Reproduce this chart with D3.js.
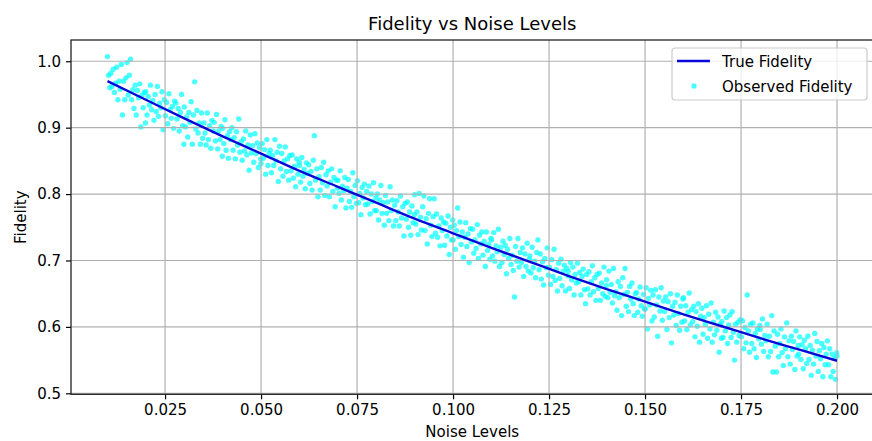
<!DOCTYPE html>
<html>
<head>
<meta charset="utf-8">
<script src="https://cdn.jsdelivr.net/npm/d3@7"></script>
<style>
  body { margin: 0; background: #fff; }
  svg { display: block; font-family: "DejaVu Sans", sans-serif; }
</style>
</head>
<body>
<script>
// noise level of each observed sample
var noiseLevels = [
  0.0100,0.0103,0.0106,0.0109,0.0112,0.0115,0.0118,0.0121,0.0124,0.0127,0.0130,0.0133,0.0136,0.0139,0.0142,0.0145,0.0148,0.0151,0.0154,0.0157,0.0160,0.0163,0.0166,0.0169,0.0172,0.0175,0.0178,0.0181,0.0184,0.0187,0.0190,0.0193,0.0196,0.0199,
  0.0200,0.0203,0.0206,0.0209,0.0212,0.0215,0.0218,0.0221,0.0224,0.0227,0.0230,0.0233,0.0236,0.0239,0.0242,0.0245,0.0248,0.0251,0.0254,0.0257,0.0260,0.0263,0.0266,0.0269,0.0272,0.0275,0.0278,0.0281,0.0284,0.0287,0.0290,0.0293,0.0296,0.0299,
  0.0300,0.0303,0.0306,0.0309,0.0312,0.0315,0.0318,0.0321,0.0324,0.0327,0.0330,0.0333,0.0336,0.0339,0.0342,0.0345,0.0348,0.0351,0.0354,0.0357,0.0360,0.0363,0.0366,0.0369,0.0372,0.0375,0.0378,0.0381,0.0384,0.0387,0.0390,0.0393,0.0396,0.0399,
  0.0400,0.0403,0.0406,0.0409,0.0412,0.0415,0.0418,0.0421,0.0424,0.0427,0.0430,0.0433,0.0436,0.0439,0.0442,0.0445,0.0448,0.0451,0.0454,0.0457,0.0460,0.0463,0.0466,0.0469,0.0472,0.0475,0.0478,0.0481,0.0484,0.0487,0.0490,0.0493,0.0496,0.0499,
  0.0500,0.0503,0.0506,0.0509,0.0512,0.0515,0.0518,0.0521,0.0524,0.0527,0.0530,0.0533,0.0536,0.0539,0.0542,0.0545,0.0548,0.0551,0.0554,0.0557,0.0560,0.0563,0.0566,0.0569,0.0572,0.0575,0.0578,0.0581,0.0584,0.0587,0.0590,0.0593,0.0596,0.0599,
  0.0600,0.0603,0.0606,0.0609,0.0612,0.0615,0.0618,0.0621,0.0624,0.0627,0.0630,0.0633,0.0636,0.0639,0.0642,0.0645,0.0648,0.0651,0.0654,0.0657,0.0660,0.0663,0.0666,0.0669,0.0672,0.0675,0.0678,0.0681,0.0684,0.0687,0.0690,0.0693,0.0696,0.0699,
  0.0700,0.0703,0.0706,0.0709,0.0712,0.0715,0.0718,0.0721,0.0724,0.0727,0.0730,0.0733,0.0736,0.0739,0.0742,0.0745,0.0748,0.0751,0.0754,0.0757,0.0760,0.0763,0.0766,0.0769,0.0772,0.0775,0.0778,0.0781,0.0784,0.0787,0.0790,0.0793,0.0796,0.0799,
  0.0800,0.0803,0.0806,0.0809,0.0812,0.0815,0.0818,0.0821,0.0824,0.0827,0.0830,0.0833,0.0836,0.0839,0.0842,0.0845,0.0848,0.0851,0.0854,0.0857,0.0860,0.0863,0.0866,0.0869,0.0872,0.0875,0.0878,0.0881,0.0884,0.0887,0.0890,0.0893,0.0896,0.0899,
  0.0900,0.0903,0.0906,0.0909,0.0912,0.0915,0.0918,0.0921,0.0924,0.0927,0.0930,0.0933,0.0936,0.0939,0.0942,0.0945,0.0948,0.0951,0.0954,0.0957,0.0960,0.0963,0.0966,0.0969,0.0972,0.0975,0.0978,0.0981,0.0984,0.0987,0.0990,0.0993,0.0996,0.0999,
  0.1000,0.1003,0.1006,0.1009,0.1012,0.1015,0.1018,0.1021,0.1024,0.1027,0.1030,0.1033,0.1036,0.1039,0.1042,0.1045,0.1048,0.1051,0.1054,0.1057,0.1060,0.1063,0.1066,0.1069,0.1072,0.1075,0.1078,0.1081,0.1084,0.1087,0.1090,0.1093,0.1096,0.1099,
  0.1100,0.1103,0.1106,0.1109,0.1112,0.1115,0.1118,0.1121,0.1124,0.1127,0.1130,0.1133,0.1136,0.1139,0.1142,0.1145,0.1148,0.1151,0.1154,0.1157,0.1160,0.1163,0.1166,0.1169,0.1172,0.1175,0.1178,0.1181,0.1184,0.1187,0.1190,0.1193,0.1196,0.1199,
  0.1200,0.1203,0.1206,0.1209,0.1212,0.1215,0.1218,0.1221,0.1224,0.1227,0.1230,0.1233,0.1236,0.1239,0.1242,0.1245,0.1248,0.1251,0.1254,0.1257,0.1260,0.1263,0.1266,0.1269,0.1272,0.1275,0.1278,0.1281,0.1284,0.1287,0.1290,0.1293,0.1296,0.1299,
  0.1300,0.1303,0.1306,0.1309,0.1312,0.1315,0.1318,0.1321,0.1324,0.1327,0.1330,0.1333,0.1336,0.1339,0.1342,0.1345,0.1348,0.1351,0.1354,0.1357,0.1360,0.1363,0.1366,0.1369,0.1372,0.1375,0.1378,0.1381,0.1384,0.1387,0.1390,0.1393,0.1396,0.1399,
  0.1400,0.1403,0.1406,0.1409,0.1412,0.1415,0.1418,0.1421,0.1424,0.1427,0.1430,0.1433,0.1436,0.1439,0.1442,0.1445,0.1448,0.1451,0.1454,0.1457,0.1460,0.1463,0.1466,0.1469,0.1472,0.1475,0.1478,0.1481,0.1484,0.1487,0.1490,0.1493,0.1496,0.1499,
  0.1500,0.1503,0.1506,0.1509,0.1512,0.1515,0.1518,0.1521,0.1524,0.1527,0.1530,0.1533,0.1536,0.1539,0.1542,0.1545,0.1548,0.1551,0.1554,0.1557,0.1560,0.1563,0.1566,0.1569,0.1572,0.1575,0.1578,0.1581,0.1584,0.1587,0.1590,0.1593,0.1596,0.1599,
  0.1600,0.1603,0.1606,0.1609,0.1612,0.1615,0.1618,0.1621,0.1624,0.1627,0.1630,0.1633,0.1636,0.1639,0.1642,0.1645,0.1648,0.1651,0.1654,0.1657,0.1660,0.1663,0.1666,0.1669,0.1672,0.1675,0.1678,0.1681,0.1684,0.1687,0.1690,0.1693,0.1696,0.1699,
  0.1700,0.1703,0.1706,0.1709,0.1712,0.1715,0.1718,0.1721,0.1724,0.1727,0.1730,0.1733,0.1736,0.1739,0.1742,0.1745,0.1748,0.1751,0.1754,0.1757,0.1760,0.1763,0.1766,0.1769,0.1772,0.1775,0.1778,0.1781,0.1784,0.1787,0.1790,0.1793,0.1796,0.1799,
  0.1800,0.1803,0.1806,0.1809,0.1812,0.1815,0.1818,0.1821,0.1824,0.1827,0.1830,0.1833,0.1836,0.1839,0.1842,0.1845,0.1848,0.1851,0.1854,0.1857,0.1860,0.1863,0.1866,0.1869,0.1872,0.1875,0.1878,0.1881,0.1884,0.1887,0.1890,0.1893,0.1896,0.1899,
  0.1900,0.1903,0.1906,0.1909,0.1912,0.1915,0.1918,0.1921,0.1924,0.1927,0.1930,0.1933,0.1936,0.1939,0.1942,0.1945,0.1948,0.1951,0.1954,0.1957,0.1960,0.1963,0.1966,0.1969,0.1972,0.1975,0.1978,0.1981,0.1984,0.1987,0.1990,0.1993,0.1996,0.1999,
  0.2000
];

// observed fidelity
var observedFidelity = [
  1.007,.979,.960,.982,.962,.988,.953,.967,.991,.942,.970,.958,.995,.919,.970,.942,.975,.998,.949,.979,1.003,.942,.957,.929,.964,.919,.956,.945,.966,.901,.949,.930,.953,.907,
  .954,.919,.947,.934,.964,.927,.941,.911, .950,.924,.962,.917,.937,.930,.954,.897,.942, .918,.938,.906,.951,.927,.914,.932,.899,.940, .937,.913,.929,.895,.923,.950,.903,.875,
  .931,.901,.916,.886,.923,.908,.939,.875, .919,.969,.898,.926,.892,.907,.875,.922,.884, .907,.892,.874,.922,.882,.903,.869,.911,.895, .908,.880,.920,.868,.895,.882,.902,.857,
  .899,.876,.912,.866,.888,.854,.894,.882, .900,.866,.885,.853,.894,.874,.913,.863,.879, .851,.883,.865,.895,.859,.874,.836,.889,.862, .873,.848,.891,.861,.877,.840,.870,.853,
  .846,.876,.854,.867,.830,.882,.843,.861, .866,.832,.858,.843,.882,.850,.863,.819,.872, .838,.861,.827,.850,.871,.834,.853,.821,.858, .835,.859,.824,.842,.811,.853,.830,.848,
  .843,.818,.855,.827,.837,.808,.847,.831, .844,.816,.834,.806,.851,.888,.821,.838,.796, .826,.806,.840,.817,.848,.798,.829,.812,.835, .796,.818,.838,.804,.825,.781,.821,.809,
  .821,.801,.835,.791,.812,.805,.825,.779, .809,.822,.789,.804,.780,.832,.796,.813,.786, .820,.787,.801,.769,.810,.794,.815,.784,.804, .785,.812,.770,.800,.789,.817,.775,.794,
  .775,.800,.761,.791,.813,.771,.787,.753, .798,.771,.788,.760,.811,.775,.791,.752,.783, .760,.790,.773,.752,.797,.764,.781,.737,.786, .762,.788,.750,.773,.738,.782,.757,.769,
  .799,.755,.773,.739,.801,.765,.746,.781, .797,.745,.763,.725,.771,.793,.753,.736,.766, .793,.741,.770,.735,.752,.722,.764,.745,.758, .723,.756,.737,.767,.709,.750,.731,.761,
  .731,.753,.717,.745,.779,.736,.758,.724, .743,.705,.735,.757,.721,.740,.697,.748,.728, .747,.711,.731,.718,.754,.703,.738,.725,.743, .708,.729,.691,.743,.715,.724,.702,.733,
  .731,.707,.742,.699,.722,.713,.747,.691, .720,.697,.729,.709,.723,.680,.717,.703,.733, .694,.708,.685,.645,.721,.699,.733,.690,.712, .697,.719,.676,.710,.691,.726,.684,.702,
  .707,.681,.720,.689,.699,.674,.712,.731, .686,.710,.672,.698,.663,.703,.689,.719,.678, .690,.664,.701,.676,.717,.670,.686,.654,.696, .673,.702,.662,.684,.693,.654,.688,.677,
  .684,.658,.697,.671,.690,.648,.679,.666, .696,.668,.682,.648,.676,.687,.656,.635,.679, .657,.683,.648,.668,.692,.653,.674,.640,.679, .658,.681,.640,.666,.650,.690,.646,.662,
  .671,.644,.684,.652,.664,.636,.688,.647, .653,.625,.668,.644,.661,.617,.674,.649,.688, .631,.652,.623,.661,.642,.666,.635,.617,.650, .652,.622,.642,.660,.632,.616,.649,.627,
  .627,.659,.597,.643,.633,.655,.609,.648, .615,.656,.633,.586,.645,.624,.659,.610,.639, .623,.645,.596,.638,.614,.650,.576,.631,.618, .637,.602,.648,.620,.595,.631,.607,.642,
  .644,.609,.632,.596,.622,.651,.603,.626, .608,.631,.585,.623,.601,.635,.577,.616,.628, .589,.614,.604,.632,.583,.619,.597,.636,.577, .607,.588,.622,.595,.615,.562,.604,.583,
  .608,.584,.624,.594,.614,.575,.603,.618, .584,.623,.592,.550,.604,.577,.607,.587,.611, .585,.609,.567,.599,.576,.648,.594,.562,.604, .575,.606,.567,.590,.554,.597,.582,.602,
  .596,.574,.612,.563,.587,.579,.604,.555, .586,.563,.617,.532,.594,.571,.532,.589,.555, .575,.597,.561,.542,.585,.567,.606,.555,.579, .544,.586,.566,.578,.536,.594,.556,.572,
  .559,.585,.551,.573,.537,.580,.567,.545, .586,.551,.572,.527,.565,.544,.590,.556,.578, .533,.564,.552,.575,.525,.569,.543,.559,.579, .543,.567,.525,.559,.533,.553,.521,.561,
  .556
];

// true fidelity curve
var trueNoise = [0.01,0.02,0.03,0.04,0.05,0.06,0.07,0.08,0.09,0.10,0.11,0.12,0.13,0.14,0.15,0.16,0.17,0.18,0.19,0.20];
var trueFidelity = [0.970,0.942,0.914,0.887,0.861,0.835,0.811,0.787,0.763,0.741,0.719,0.698,0.677,0.657,0.638,0.619,0.601,0.583,0.566,0.549];

var xTicks = [0.025,0.050,0.075,0.100,0.125,0.150,0.175,0.200];
var yTicks = [0.5,0.6,0.7,0.8,0.9,1.0];

var W = 872, H = 441;
var pL = 71, pR = 873.5, pT = 40, pB = 394.3;

var svg = d3.select("body").append("svg")
    .attr("width", W)
    .attr("height", H);

svg.append("rect").attr("width", W).attr("height", H).attr("fill", "#fff");

var x = d3.scaleLinear().domain([0.0005, 0.2095]).range([pL, pR]);
var y = d3.scaleLinear().domain([0.4985, 1.032]).range([pB, pT]);

var plot = svg.append("g");

// scatter
var pts = noiseLevels.map(function(d, i){ return [d, observedFidelity[i]]; });
plot.selectAll("circle")
    .data(pts)
    .enter()
    .append("circle")
    .attr("cx", function(d){ return x(d[0]); })
    .attr("cy", function(d){ return y(d[1]); })
    .attr("r", 2.7)
    .attr("fill", "#00ffff")
    .attr("fill-opacity", 0.7);

// grid
var grid = svg.append("g").attr("stroke", "#b0b0b0").attr("stroke-width", 1.2);
grid.selectAll(".gx").data(xTicks).enter().append("line")
    .attr("x1", function(d){ return x(d); }).attr("x2", function(d){ return x(d); })
    .attr("y1", pT).attr("y2", pB);
grid.selectAll(".gy").data(yTicks).enter().append("line")
    .attr("x1", pL).attr("x2", pR)
    .attr("y1", function(d){ return y(d); }).attr("y2", function(d){ return y(d); });

// true fidelity line
var line = d3.line()
    .x(function(d, i){ return x(trueNoise[i]); })
    .y(function(d){ return y(d); })
    .curve(d3.curveMonotoneX);
svg.append("path")
    .datum(trueFidelity)
    .attr("d", line)
    .attr("fill", "none")
    .attr("stroke", "#0808d8")
    .attr("stroke-width", 2.4);

// axes
var xAxis = svg.append("g")
    .attr("transform", "translate(0," + pB + ")")
    .call(d3.axisBottom(x).tickValues(xTicks).tickFormat(d3.format(".3f"))
          .tickSize(5).tickPadding(5).tickSizeOuter(0));
var yAxis = svg.append("g")
    .attr("transform", "translate(" + pL + ",0)")
    .call(d3.axisLeft(y).tickValues(yTicks).tickFormat(d3.format(".1f"))
          .tickSize(5).tickPadding(5).tickSizeOuter(0));
[xAxis, yAxis].forEach(function(a){
    a.select(".domain").remove();
    a.selectAll(".tick line").attr("stroke", "#000").attr("stroke-width", 1.2);
    a.selectAll(".tick text").attr("fill", "#000")
        .style("font-size", "15px").style("font-family", "DejaVu Sans");
});

// frame
svg.append("rect")
    .attr("x", pL).attr("y", pT)
    .attr("width", pR - pL).attr("height", pB - pT)
    .attr("fill", "none")
    .attr("stroke", "#222")
    .attr("stroke-width", 1.3);

// titles
svg.append("text")
    .attr("x", (pL + pR) / 2).attr("y", 30)
    .attr("text-anchor", "middle")
    .style("font-size", "18px")
    .text("Fidelity vs Noise Levels");
svg.append("text")
    .attr("x", (pL + pR) / 2).attr("y", 437)
    .attr("text-anchor", "middle")
    .style("font-size", "15px")
    .text("Noise Levels");
svg.append("text")
    .attr("transform", "translate(26," + (pT + pB) / 2 + ") rotate(-90)")
    .attr("text-anchor", "middle")
    .style("font-size", "15px")
    .text("Fidelity");

// legend
var lg = svg.append("g");
lg.append("rect")
    .attr("x", 672).attr("y", 48).attr("width", 195).attr("height", 52)
    .attr("rx", 3)
    .attr("fill", "#fff").attr("fill-opacity", 0.8)
    .attr("stroke", "#cccccc").attr("stroke-width", 1.2);
lg.append("line")
    .attr("x1", 677).attr("x2", 710).attr("y1", 61).attr("y2", 61)
    .attr("stroke", "#0808d8").attr("stroke-width", 2.4);
lg.append("circle")
    .attr("cx", 694).attr("cy", 86).attr("r", 2.7)
    .attr("fill", "#00ffff").attr("fill-opacity", 0.7);
lg.append("text").attr("x", 722).attr("y", 66.5)
    .style("font-size", "15px").text("True Fidelity");
lg.append("text").attr("x", 722).attr("y", 91.5)
    .style("font-size", "15px").text("Observed Fidelity");
</script>
</body>
</html>
